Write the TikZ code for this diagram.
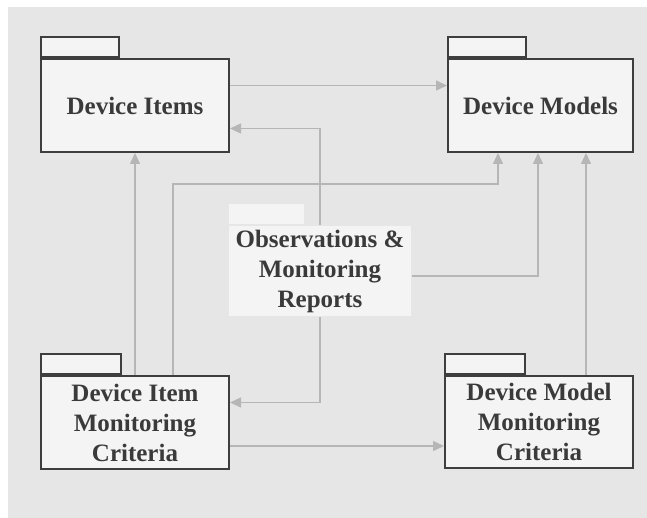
\documentclass[tikz,border=0pt]{standalone}
\usepackage{fontspec}
\setmainfont{Liberation Serif}
\usetikzlibrary{arrows.meta,positioning,calc}

\definecolor{pagegray}{HTML}{E6E6E6}
\definecolor{boxfill}{HTML}{F4F4F4}
\definecolor{boxline}{HTML}{3E3E3E}
\definecolor{linkgray}{HTML}{B6B6B6}
\definecolor{textgray}{HTML}{3A3A3A}

\begin{document}
\begin{tikzpicture}[
            x=1pt, y=-1pt,
            pkgbody/.style={
                draw=boxline,
                fill=boxfill,
                line width=2pt,
                anchor=north west,
                align=center,
                text=textgray,
                font=\fontsize{25}{30}\selectfont\bfseries
            },
            pkgtab/.style={
                draw=boxline,
                fill=boxfill,
                line width=2pt,
                anchor=south west,
                minimum width=78pt,
                minimum height=20pt,
                inner sep=0pt
            },
            conn/.style={
                draw=linkgray,
                line width=1.4pt,
                -{Triangle[length=11pt,width=10pt]}
            }
        ]

            % --- page ---
            \useasboundingbox (0,0) rectangle (647,518);
            \fill[pagegray] (8,7) rectangle (647,518);

            % --- Packages on top ---
            \node[pkgbody, minimum width=188pt, minimum height=93pt] (DI) at (40,58) {Device Items};
            \node[pkgtab] (DItab) at (DI.north west) {};
            \node[pkgbody, minimum width=185pt, minimum height=93pt] (DM) at (447,58) {Device Models};
            \node[pkgtab] (DMtab) at (DM.north west) {};

            % --- Observations package (no outline) ---
            \node[pkgbody, draw=none, minimum width=182pt, minimum height=90pt, inner sep=0pt] (OBS) at (228,225) {Observations \&\\Monitoring\\Reports};
            \node[pkgtab, draw=none, minimum width=75pt] (OBStab) at (OBS.north west) {};

            % --- Criteria packages ---
            \node[pkgbody, minimum width=188pt, minimum height=93pt, inner sep=0pt] (DIMC) at (40,375) {Device Item\\Monitoring\\Criteria};
            \node[pkgtab, minimum width=80pt] (DIMCtab) at (DIMC.north west) {};
            \node[pkgbody, minimum width=188pt, minimum height=92pt, inner sep=0pt] (DMMC) at (444,375) {Device Model\\Monitoring\\Criteria};
            \node[pkgtab, minimum width=80pt] (DMMCtab) at (DMMC.north west) {};

            % --- Dependencies ---
            \draw[conn] ([yshift=20pt]DI.east) -- ([yshift=20pt]DM.west);
            \draw[conn] (OBS.north) |- ([yshift=-23pt]DI.east);
            \draw[conn] (OBS.south) |- ([yshift=20pt]DIMC.east);
            \draw[conn] ([yshift=-5pt]OBS.east) -| ([xshift=-2.5pt]DM.south);
            \draw[conn] (DIMC.north) -- (DI.south);
            \draw[conn] ([xshift=38pt]DIMC.north) |- ([xshift=-42.5pt,yshift=-31pt]DM.south) -- ([xshift=-42.5pt]DM.south);
            \draw[conn] ([xshift=47pt]DMMC.north) -- ([xshift=47pt]DMMC.north |- DM.south);
            \draw[conn] ([yshift=-23.5pt]DIMC.east) -- ([yshift=-23.5pt]DIMC.east -| DMMC.west);
        \end{tikzpicture}
\end{document}
